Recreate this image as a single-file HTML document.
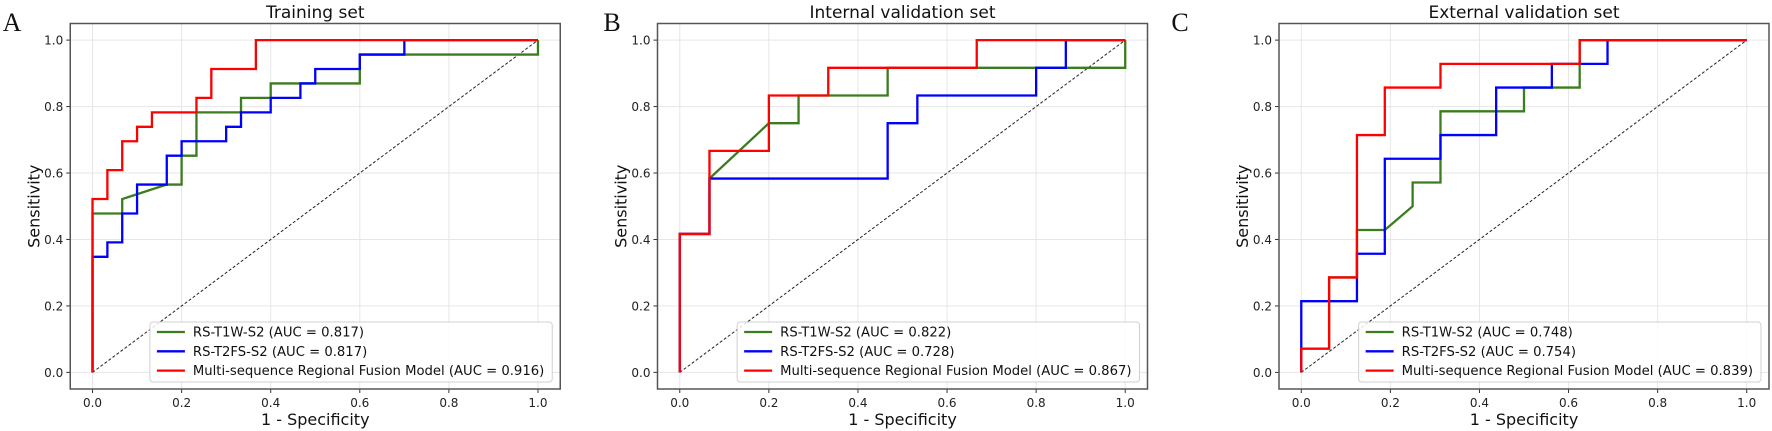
<!DOCTYPE html>
<html><head><meta charset="utf-8"><style>
html,body{margin:0;padding:0;background:#fff;width:1772px;height:431px;overflow:hidden}
svg{display:block;font-family:"DejaVu Sans","Liberation Sans",sans-serif}
</style></head><body>
<svg id="fig" width="1772" height="431" viewBox="0 0 1772 431" xmlns="http://www.w3.org/2000/svg"></svg>
<script>
const titles = ["Training set", "Internal validation set", "External validation set"];
const panelLetters = ["A", "B", "C"];
const seriesNames = ["RS-T1W-S2", "RS-T2FS-S2", "Multi-sequence Regional Fusion Model"];
const aucA = ["0.817", "0.817", "0.916"];
const aucB = ["0.822", "0.728", "0.867"];
const aucC = ["0.748", "0.754", "0.839"];
const tickValues = [0, 0.2, 0.4, 0.6, 0.8, 1.0];
const tickLabels = ["0.0", "0.2", "0.4", "0.6", "0.8", "1.0"];

// Panel A: 30 negatives, 23 positives
const aGreenX = [0,0,2/30,2/30,5/30,6/30,6/30,7/30,7/30,10/30,10/30,12/30,12/30,18/30,18/30,1,1];
const aGreenY = [0,11/23,11/23,12/23,13/23,13/23,15/23,15/23,18/23,18/23,19/23,19/23,20/23,20/23,22/23,22/23,1];
const aBlueX = [0,0,1/30,1/30,2/30,2/30,3/30,3/30,5/30,5/30,6/30,6/30,9/30,9/30,10/30,10/30,12/30,12/30,14/30,14/30,15/30,15/30,18/30,18/30,21/30,21/30,1];
const aBlueY = [0,8/23,8/23,9/23,9/23,11/23,11/23,13/23,13/23,15/23,15/23,16/23,16/23,17/23,17/23,18/23,18/23,19/23,19/23,20/23,20/23,21/23,21/23,22/23,22/23,1,1];
const aRedX = [0,0,1/30,1/30,2/30,2/30,3/30,3/30,4/30,4/30,7/30,7/30,8/30,8/30,11/30,11/30,1];
const aRedY = [0,12/23,12/23,14/23,14/23,16/23,16/23,17/23,17/23,18/23,18/23,19/23,19/23,21/23,21/23,1,1];

// Panel B: 15 negatives, 12 positives
const bGreenX = [0,0,1/15,1/15,3/15,4/15,4/15,7/15,7/15,1,1];
const bGreenY = [0,5/12,5/12,7/12,9/12,9/12,10/12,10/12,11/12,11/12,1];
const bBlueX = [0,0,1/15,1/15,7/15,7/15,8/15,8/15,12/15,12/15,13/15,13/15,1];
const bBlueY = [0,5/12,5/12,7/12,7/12,9/12,9/12,10/12,10/12,11/12,11/12,1,1];
const bRedX = [0,0,1/15,1/15,3/15,3/15,5/15,5/15,10/15,10/15,1];
const bRedY = [0,5/12,5/12,8/12,8/12,10/12,10/12,11/12,11/12,1,1];

// Panel C: 16 negatives, 14 positives
const cGreenX = [0,0,1/16,1/16,2/16,2/16,3/16,4/16,4/16,5/16,5/16,8/16,8/16,10/16,10/16,1];
const cGreenY = [0,1/14,1/14,4/14,4/14,6/14,6/14,7/14,8/14,8/14,11/14,11/14,12/14,12/14,1,1];
const cBlueX = [0,0,2/16,2/16,3/16,3/16,5/16,5/16,7/16,7/16,9/16,9/16,11/16,11/16,1];
const cBlueY = [0,3/14,3/14,5/14,5/14,9/14,9/14,10/14,10/14,12/14,12/14,13/14,13/14,1,1];
const cRedX = [0,0,1/16,1/16,2/16,2/16,3/16,3/16,5/16,5/16,10/16,10/16,1];
const cRedY = [0,1/14,1/14,4/14,4/14,10/14,10/14,12/14,12/14,13/14,13/14,1,1];

const panelSeries = [
  [[aGreenX,aGreenY],[aBlueX,aBlueY],[aRedX,aRedY]],
  [[bGreenX,bGreenY],[bBlueX,bBlueY],[bRedX,bRedY]],
  [[cGreenX,cGreenY],[cBlueX,cBlueY],[cRedX,cRedY]]
];
const panelAUC = [aucA, aucB, aucC];
const colors = ["#3b7d1e", "#0000ff", "#ff0000"];
const seriesKeys = ["green", "blue", "red"];

const NS = "http://www.w3.org/2000/svg";
const svg = document.getElementById("fig");
function mk(tag, attrs, parent){const e=document.createElementNS(NS,tag);for(const k in attrs)e.setAttribute(k,attrs[k]);(parent||svg).appendChild(e);return e;}

const axLefts = [70.25, 657.5, 1279];
const axW = 490, axTop = 23.5, axBot = 389;
const letterX = [12, 612, 1180];

for (let p=0;p<3;p++){
  const L = axLefts[p], R = L+axW;
  const unitX = axW/1.1, unitY = (axBot-axTop)/1.1;
  const sx = v => L + (v+0.05)*unitX;
  const sy = v => axBot - (v+0.05)*unitY;
  const g = mk("g",{});
  
  

  const lt = mk("text",{x:letterX[p],y:31,"text-anchor":"middle","font-family":"Liberation Serif, serif","font-size":26,fill:"#111"},g);
  lt.textContent = panelLetters[p];
  
  

  const tt = mk("text",{x:(L+R)/2,y:18,"text-anchor":"middle","font-size":17,fill:"#111"},g);
  tt.textContent = titles[p];
  
  

  tickValues.forEach((v,i)=>{
    const gx = mk("line",{x1:sx(v),x2:sx(v),y1:axTop,y2:axBot,stroke:"#e6e6e6","stroke-width":1},g);
    
    
    const gy = mk("line",{x1:L,x2:R,y1:sy(v),y2:sy(v),stroke:"#e6e6e6","stroke-width":1},g);
    
    
    mk("line",{x1:sx(v),x2:sx(v),y1:axBot,y2:axBot+4,stroke:"#333","stroke-width":1},g);
    mk("line",{x1:L-4,x2:L,y1:sy(v),y2:sy(v),stroke:"#333","stroke-width":1},g);
    const xl = mk("text",{x:sx(v),y:axBot+18,"text-anchor":"middle","font-size":12,fill:"#222"},g);
    xl.textContent = tickLabels[i];
    
    
    const yl = mk("text",{x:L-7,y:sy(v)+4.5,"text-anchor":"end","font-size":12,fill:"#222"},g);
    yl.textContent = tickLabels[i];
    
    
  });

  const dg = mk("line",{x1:sx(0),y1:sy(0),x2:sx(1),y2:sy(1),stroke:"#222","stroke-width":1,"stroke-dasharray":"3,2"},g);
  
  

  panelSeries[p].forEach((s,k)=>{
    const pts = s[0].map((x,i)=>sx(x).toFixed(2)+","+sy(s[1][i]).toFixed(2)).join(" ");
    const pl = mk("polyline",{points:pts,fill:"none",stroke:colors[k],"stroke-width":2.3,"stroke-linejoin":"miter"},g);
    
    
  });

  const fr = mk("rect",{x:L,y:axTop,width:axW,height:axBot-axTop,fill:"none",stroke:"#555","stroke-width":1.5},g);
  
  

  const xt = mk("text",{x:(L+R)/2,y:axBot+36,"text-anchor":"middle","font-size":16,fill:"#111"},g);
  xt.textContent = "1 - Specificity";
  
  
  const ytx = L-37, yty = (axTop+axBot)/2;
  const yt = mk("text",{x:ytx,y:yty,"text-anchor":"middle","font-size":16,fill:"#111",transform:`rotate(-90 ${ytx} ${yty}) translate(0 6)`},g);
  yt.textContent = "Sensitivity";
  
  

  const lgR = R-8, lgT = 322, lgB = 382;
  const lg = mk("g",{},g);
  
  
  const box = mk("rect",{y:lgT,height:lgB-lgT,rx:3,fill:"#fff","fill-opacity":0.85,stroke:"#d0d0d0","stroke-width":1},lg);
  const texts = [], lines = [];
  let maxW = 0;
  seriesNames.forEach((n,k)=>{
    const yy = lgT+10+k*19.3;
    const ll = mk("line",{y1:yy,y2:yy,stroke:colors[k],"stroke-width":2.3},lg);
    
    
    const lt2 = mk("text",{y:yy+4.5,"font-size":13.2,fill:"#111"},lg);
    lt2.textContent = n+" (AUC = "+panelAUC[p][k]+")";
    
    
    texts.push(lt2); lines.push(ll);
    maxW = Math.max(maxW, lt2.getComputedTextLength());
  });
  const lgL = lgR - (maxW + 43 + 8);
  box.setAttribute("x", lgL);
  box.setAttribute("width", lgR-lgL);
  lines.forEach(l=>{l.setAttribute("x1",lgL+7);l.setAttribute("x2",lgL+35);});
  texts.forEach(t=>t.setAttribute("x",lgL+43));
}
</script>
</body></html>
